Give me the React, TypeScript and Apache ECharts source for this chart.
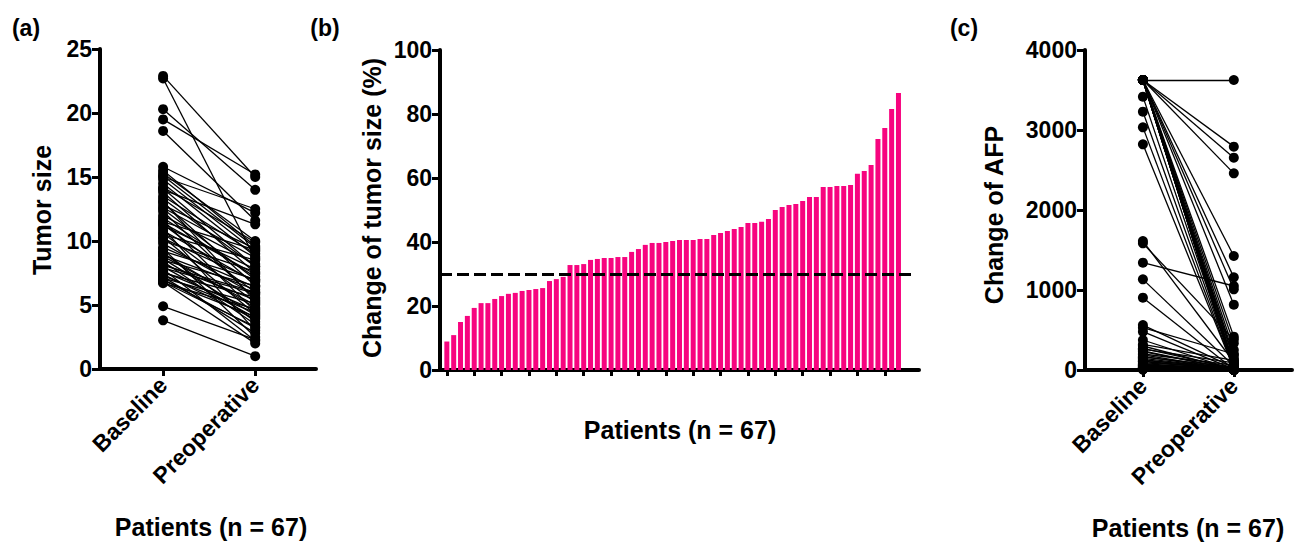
import React, { useEffect, useRef } from 'react';
import * as echarts from 'echarts';

const timepoints = ['Baseline', 'Preoperative'];

// Panel (a): tumor size per patient
const baselineSize = [
  22.9, 22.7, 20.3, 19.5, 18.6, 15.8, 15.5, 15.3, 15.1, 15.0,
  14.8, 14.5, 14.2, 14.0, 13.8, 13.5, 13.3, 13.0, 12.8, 12.5,
  12.3, 12.0, 11.8, 11.6, 11.5, 11.3, 11.2, 11.0, 10.8, 10.6,
  10.5, 10.3, 10.0, 9.8, 9.5, 9.4, 9.2, 9.0, 8.9, 8.8,
  8.6, 8.5, 8.4, 8.2, 8.0, 7.9, 7.8, 7.6, 7.5, 7.4,
  7.3, 7.2, 7.1, 7.0, 6.9, 6.8, 6.7, 8.1, 9.1, 10.2,
  11.4, 12.6, 13.1, 14.1, 6.8, 4.9, 3.8,
];
const preopSize = [
  15.0, 8.6, 14.0, 15.2, 11.6, 12.2, 9.6, 10.0, 9.5, 12.5,
  9.2, 8.8, 9.9, 11.3, 7.5, 9.0, 8.0, 6.5, 9.4, 7.0,
  5.5, 8.2, 7.2, 4.5, 9.3, 6.0, 7.8, 3.0, 6.8, 5.2,
  8.5, 4.3, 7.6, 5.8, 6.4, 2.5, 7.0, 4.8, 6.2, 5.0,
  4.2, 6.5, 3.5, 5.4, 4.0, 5.9, 2.2, 4.6, 5.6, 3.9,
  4.4, 2.8, 5.1, 3.2, 4.1, 2.0, 4.7, 6.0, 3.7, 6.9,
  7.4, 8.7, 5.3, 8.0, 3.3, 2.3, 1.0,
];

// Panel (b): change of tumor size (%), sorted
const changePct = [
  8.9, 10.9, 15.0, 16.9, 19.4, 20.9, 20.9, 22.2, 23.1, 23.8,
  24.1, 24.7, 25.0, 25.3, 25.6, 27.8, 28.4, 29.1, 32.8, 32.8,
  33.1, 34.4, 34.7, 35.0, 35.0, 35.3, 35.3, 36.9, 37.8, 39.1,
  39.7, 39.7, 40.0, 40.3, 40.6, 40.6, 40.6, 40.9, 40.9, 42.2,
  42.8, 43.4, 44.1, 44.7, 45.9, 45.9, 46.3, 47.2, 50.0, 50.9,
  51.6, 51.9, 52.8, 54.1, 54.1, 57.2, 57.2, 57.5, 57.5, 57.8,
  61.3, 62.2, 64.1, 72.2, 75.6, 81.6, 86.6,
];
const threshold = 30;

// Panel (c): AFP per patient
const baselineAFP = [
  3625, 3625, 3625, 3625, 3625, 3625, 3625, 3625, 3625, 3625,
  3625, 3625, 3625, 3625, 3625, 3625, 3625, 3625, 3625, 3625,
  3625, 3625, 3417, 3229, 3033, 2821, 1612, 1583, 1342, 1133,
  904, 562, 529, 479, 375, 271, 229, 188, 146, 104,
  63, 21, 5, 8, 12, 15, 20, 25, 30, 35,
  40, 45, 50, 60, 70, 80, 90, 110, 120, 130,
  160, 170, 200, 240, 260, 300, 320,
];
const preopAFP = [
  3625, 2792, 2654, 2458, 1425, 1158, 1008, 817, 417, 333,
  250, 188, 125, 83, 42, 20, 10, 5, 0, 0,
  60, 150, 40, 30, 15, 20, 100, 380, 1050, 50,
  10, 30, 200, 10, 5, 20, 8, 3, 12, 4,
  2, 1, 2, 1, 3, 5, 4, 6, 2, 10,
  8, 3, 15, 5, 20, 4, 30, 6, 25, 8,
  40, 2, 60, 3, 90, 5, 120,
];

const FONT = "'Liberation Sans', Arial, Helvetica, sans-serif";
const BLACK = '#000';
const PINK = '#F7047F';

const pairLines = (b: number[], p: number[]) =>
  b.map((v, i) => ({ coords: [[1, v], [2, p[i]]] }));
const pairDots = (b: number[], p: number[]) => [
  ...b.map((v) => [1, v]),
  ...p.map((v) => [2, v]),
];

const labelStyle = {
  color: BLACK,
  fontSize: 23,
  fontWeight: 'bold' as const,
  fontFamily: FONT,
};

const yAxisOf = (gridIndex: number, max: number, interval: number) => ({
  type: 'value',
  gridIndex,
  min: 0,
  max,
  interval,
  axisLine: { show: true, onZero: false, lineStyle: { color: BLACK, width: 4 } },
  axisTick: { show: true, length: 8, lineStyle: { color: BLACK, width: 3 } },
  axisLabel: { ...labelStyle, margin: 8, formatter: (v: number) => String(v) },
  splitLine: { show: false },
});

const pairXAxis = (gridIndex: number, min: number, max: number) => ({
  type: 'value',
  gridIndex,
  min,
  max,
  axisLine: { show: true, onZero: false, lineStyle: { color: BLACK, width: 4 } },
  axisTick: { show: true, length: 7, customValues: [1, 2], lineStyle: { color: BLACK, width: 3 } },
  axisLabel: {
    ...labelStyle,
    customValues: [1, 2],
    formatter: (v: number) => timepoints[Math.round(v) - 1] || '',
    rotate: 45,
    margin: 12,
  },
  splitLine: { show: false },
});

const textEl = (text: string, x: number, y: number, rotation = 0, size = 25) => ({
  type: 'text',
  x,
  y,
  rotation,
  style: {
    text,
    fill: BLACK,
    fontSize: size,
    fontWeight: 'bold',
    fontFamily: FONT,
    textAlign: 'center',
    textVerticalAlign: 'middle',
    align: 'center',
    verticalAlign: 'middle',
  },
});

export default function App() {
  const ref = useRef<HTMLDivElement>(null);

  useEffect(() => {
    document.body.style.margin = '0';
    if (!ref.current) return;
    const chart = echarts.init(ref.current, null, { renderer: 'svg' });
    const patientIdx = changePct.map((_, i) => i + 1);
    const tickPatients = patientIdx.filter((n) => (n - 1) % 4 === 0);

    chart.setOption({
      animation: false,
      backgroundColor: '#fff',
      grid: [
        { left: 100, top: 49, width: 216, height: 320, containLabel: false },
        { left: 440, top: 50, width: 479, height: 320, containLabel: false },
        { left: 1085, top: 50, width: 207, height: 320, containLabel: false },
      ],
      xAxis: [
        pairXAxis(0, 0.315, 2.66),
        {
          type: 'value',
          gridIndex: 1,
          min: 0,
          max: 70,
          axisLine: { show: true, onZero: false, lineStyle: { color: BLACK, width: 4 } },
          axisTick: { show: true, length: 6, customValues: tickPatients, lineStyle: { color: BLACK, width: 3 } },
          axisLabel: { show: false },
          splitLine: { show: false },
        },
        pairXAxis(2, 0.363, 2.64),
      ],
      yAxis: [yAxisOf(0, 25, 5), yAxisOf(1, 100, 20), yAxisOf(2, 4000, 1000)],
      series: [
        {
          type: 'lines',
          coordinateSystem: 'cartesian2d',
          xAxisIndex: 0,
          yAxisIndex: 0,
          data: pairLines(baselineSize, preopSize),
          lineStyle: { color: BLACK, width: 1.3, opacity: 1 },
          silent: true,
          z: 2,
        },
        {
          type: 'scatter',
          xAxisIndex: 0,
          yAxisIndex: 0,
          data: pairDots(baselineSize, preopSize),
          symbol: 'circle',
          symbolSize: 10,
          itemStyle: { color: BLACK, opacity: 1 },
          z: 3,
        },
        {
          type: 'bar',
          xAxisIndex: 1,
          yAxisIndex: 1,
          data: changePct.map((v, i) => [patientIdx[i], v]),
          barWidth: 5,
          itemStyle: { color: PINK },
          markLine: {
            silent: true,
            symbol: ['none', 'none'],
            label: { show: false },
            lineStyle: { color: BLACK, type: [12, 5], width: 3 },
            data: [[{ coord: [0, threshold] }, { coord: [69, threshold] }]],
          },
        },
        {
          type: 'lines',
          coordinateSystem: 'cartesian2d',
          xAxisIndex: 2,
          yAxisIndex: 2,
          data: pairLines(baselineAFP, preopAFP),
          lineStyle: { color: BLACK, width: 1.3, opacity: 1 },
          silent: true,
          z: 2,
        },
        {
          type: 'scatter',
          xAxisIndex: 2,
          yAxisIndex: 2,
          data: pairDots(baselineAFP, preopAFP),
          symbol: 'circle',
          symbolSize: 10,
          itemStyle: { color: BLACK, opacity: 1 },
          z: 3,
        },
      ],
      graphic: [
        textEl('(a)', 26, 28, 0, 23),
        textEl('(b)', 325, 28, 0, 23),
        textEl('(c)', 964, 28, 0, 23),
        textEl('Tumor size', 42, 210, Math.PI / 2),
        textEl('Change of tumor size (%)', 372, 208, Math.PI / 2),
        textEl('Change of AFP', 994, 215, Math.PI / 2),
        textEl('Patients (n = 67)', 211, 527),
        textEl('Patients (n = 67)', 680, 430),
        textEl('Patients (n = 67)', 1188, 528),
      ],
    });
    return () => chart.dispose();
  }, []);

  return (
    <div
      ref={ref}
      style={{ position: 'fixed', left: 0, top: 0, width: 1296, height: 544, background: '#fff' }}
    />
  );
}
